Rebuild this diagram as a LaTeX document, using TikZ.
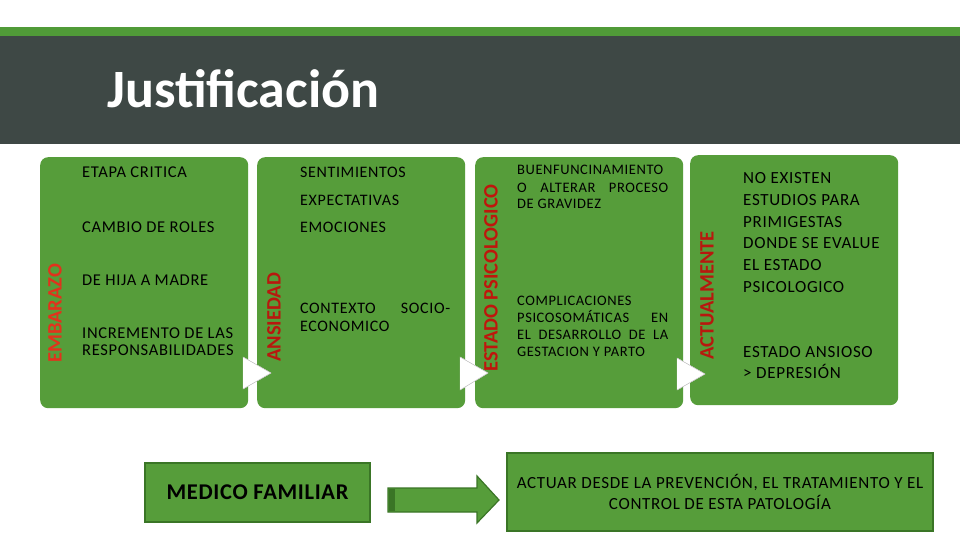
\documentclass[tikz,border=0pt]{standalone}
\usepackage{fontspec}
\setmainfont{Carlito}
\newfontfamily\bodyf[LetterSpace=4]{Carlito}
\newfontfamily\boldf[LetterSpace=3]{Carlito Bold}
\definecolor{stripeg}{RGB}{80,155,56}
\definecolor{banner}{RGB}{62,72,69}
\definecolor{boxg}{RGB}{86,157,58}
\definecolor{boxedge}{RGB}{58,117,38}
\definecolor{redA}{RGB}{226,50,28}
\definecolor{redB}{RGB}{184,24,14}
\tikzset{
  panel/.style={fill=boxg, rounded corners=8pt, minimum width=208pt, minimum height=251pt, inner sep=0pt, anchor=north west},
  flatbox/.style={fill=boxg, draw=boxedge, line width=1.2pt, inner sep=0pt},
  notch/.style={fill=white, draw=black!25, line width=0.4pt},
  vlabel/.style={rotate=90, anchor=west, inner sep=0pt, font=\bfseries\fontsize{20.5}{24}\selectfont},
  txtA/.style={anchor=base west, inner sep=0pt, text=black, font=\bodyf\fontsize{16.5}{19}\selectfont},
  txtD/.style={anchor=base west, inner sep=0pt, text=black, font=\bodyf\fontsize{17}{19}\selectfont},
  txtB/.style={anchor=base west, inner sep=0pt, text=black, font=\bodyf\fontsize{16}{19}\selectfont},
  txtC/.style={anchor=base west, inner sep=0pt, text=black, font=\bodyf\fontsize{14.5}{17}\selectfont},
  blockarrow/.style={fill=boxg, draw=boxedge, line width=1.2pt, line join=miter}
}
\begin{document}
\begin{tikzpicture}[x=1pt,y=-1pt]
\useasboundingbox (0,0) rectangle (960,540);
\fill[white] (0,0) rectangle (960,540);
\fill[stripeg] (0,27) rectangle (960,36);
\fill[banner] (0,36) rectangle (960,144);
\node[anchor=base west, inner sep=0pt, text=white, font=\bfseries\fontsize{54}{60}\selectfont] (title) at (107,108) {Justificación};

% panels
\node[panel] (p1) at (40,157) {};
\node[panel] (p2) at (257,157) {};
\node[panel] (p3) at (475,157) {};
\node[panel, minimum height=250pt] (p4) at (690,155) {};

% notches
\fill[notch] (243,357) -- (243,389) -- (271,373) -- cycle;
\fill[notch] (460,357) -- (460,390) -- (488,373) -- cycle;
\fill[notch] (677,358) -- (677,390) -- (705,374) -- cycle;
\draw[notch] (243,357) -- (271,373) -- (243,389);
\draw[notch] (460,357) -- (488,373) -- (460,390);
\draw[notch] (677,358) -- (705,374) -- (677,390);

% vertical labels
\node[vlabel, text=redA] (l1) at (55,363) {EMBARAZO};
\node[vlabel, text=redB] (l2) at (274,362) {ANSIEDAD};
\node[vlabel, text=redB!90!red] (l3) at (491,372) {ESTADO PSICOLOGICO};
\node[vlabel, text=redB] (l4) at (707,360) {ACTUALMENTE};

% panel 1 texts
\node[txtA] (a1) at (82,178) {ETAPA CRITICA};
\node[txtA] (a2) at (82,232) {CAMBIO DE ROLES};
\node[txtA] (a3) at (82,285) {DE HIJA A MADRE};
\node[txtA] (a4) at (82,338) {INCREMENTO DE LAS};
\node[txtA] (a5) at (82,355) {RESPONSABILIDADES};

% panel 2 texts
\node[txtB] (b1) at (300,178) {SENTIMIENTOS};
\node[txtB] (b2) at (300,205) {EXPECTATIVAS};
\node[txtB] (b3) at (300,232) {EMOCIONES};
\node[txtB] (b4) at (300,313) {\makebox[150pt][s]{CONTEXTO SOCIO-}};
\node[txtB] (b5) at (300,331) {ECONOMICO};

% panel 3 texts
\node[txtC] (c1) at (517,175) {BUENFUNCINAMIENTO};
\node[txtC] (c2) at (517,192) {\makebox[151pt][s]{O ALTERAR PROCESO}};
\node[txtC] (c3) at (517,208) {DE GRAVIDEZ};
\node[txtC] (c4) at (517,305) {COMPLICACIONES};
\node[txtC] (c5) at (517,322) {\makebox[151pt][s]{PSICOSOMÁTICAS EN}};
\node[txtC] (c6) at (517,339) {\makebox[151pt][s]{EL DESARROLLO DE LA}};
\node[txtC] (c7) at (517,356) {GESTACION Y PARTO};

% panel 4 texts
\node[txtD] (d1) at (743,183) {NO EXISTEN};
\node[txtD] (d2) at (743,205) {ESTUDIOS PARA};
\node[txtD] (d3) at (743,227) {PRIMIGESTAS};
\node[txtD] (d4) at (743,248) {DONDE SE EVALUE};
\node[txtD] (d5) at (743,270) {EL ESTADO};
\node[txtD] (d6) at (743,292) {PSICOLOGICO};
\node[txtD] (d7) at (743,357) {ESTADO ANSIOSO};
\node[txtD] (d8) at (743,378) {> DEPRESIÓN};

% bottom row
\node[flatbox, minimum width=225pt, minimum height=59pt, font=\boldf\fontsize{22.5}{25}\selectfont] (mf) at (257.5,492.5) {MEDICO FAMILIAR};
\node[flatbox, minimum width=426pt, minimum height=78pt, align=center, font=\bodyf\fontsize{17}{21}\selectfont] (act) at (720,492) {ACTUAR DESDE LA PREVENCIÓN, EL TRATAMIENTO Y EL\\CONTROL DE ESTA PATOLOGÍA};

\draw[blockarrow] (388,488) -- (477,488) -- (477,476) -- (499,500) -- (477,523) -- (477,512) -- (388,512) -- cycle;
\fill[boxedge] (389,489) rectangle (395,511);
\end{tikzpicture}
\end{document}
